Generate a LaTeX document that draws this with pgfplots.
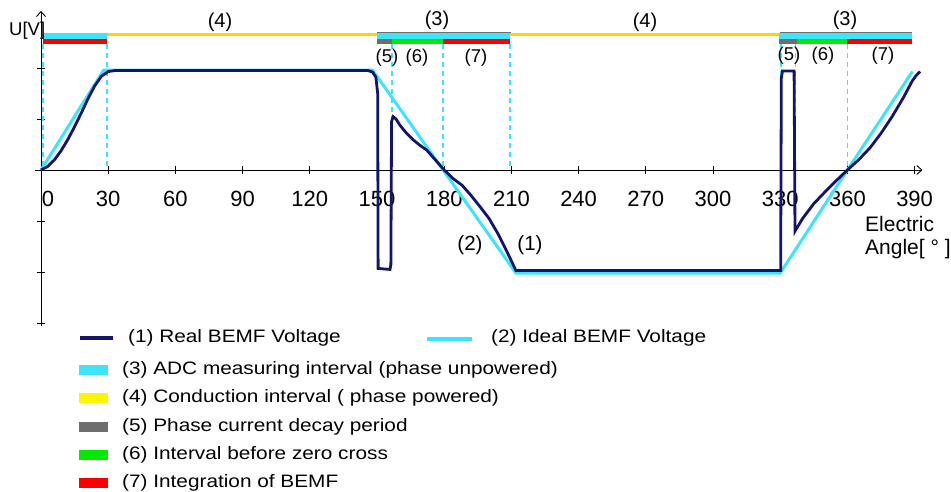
\documentclass[border=0pt]{standalone}
\usepackage{fontspec}
\setmainfont{Liberation Sans}
\newfontfamily\legfont[FakeStretch=1.155]{Liberation Sans}
\usepackage{pgfplots}
\pgfplotsset{compat=1.18}
\usetikzlibrary{arrows.meta}
\definecolor{navyc}{RGB}{20,20,110}
\definecolor{cyanc}{RGB}{60,230,250}
\definecolor{bandyel}{RGB}{250,215,0}
\definecolor{legyel}{RGB}{255,245,0}
\definecolor{grayc}{RGB}{110,110,110}
\definecolor{greenc}{RGB}{0,235,0}
\definecolor{redc}{RGB}{250,0,0}
\begin{document}
\begin{tikzpicture}
\begin{axis}[
 x=2.24pt, y=51pt,
 xmin=-2.7, xmax=393.5, ymin=-3.05, ymax=3.12,
 axis lines=middle,
 axis line style={line width=0.9pt, black},
 x axis line style={-{Straight Barb[length=5pt,width=9pt]}},
 y axis line style={-{Straight Barb[length=5pt,width=9pt]}},
 xtick={30,60,...,390},
 ytick={-3,-2,-1,1,2},
 yticklabels={},
 major tick length=8pt,
 tick align=center,
 tick style={black, line width=0.9pt},
 xticklabel style={font=\fontsize{22}{22}\selectfont, yshift=-14pt},
 /pgf/number format/assume math mode=true,
 clip=false,
]
% dashed guide lines
\addplot[cyanc, line width=1.7pt, dash pattern=on 5pt off 4pt] coordinates {(1,2.47) (1,0)};
\addplot[cyanc, line width=1.7pt, dash pattern=on 5pt off 4pt] coordinates {(29.5,2.47) (29.5,0)};
\addplot[cyanc, line width=1.7pt, dash pattern=on 5pt off 4pt] coordinates {(156.7,2.47) (156.7,0)};
\addplot[cyanc, line width=1.7pt, dash pattern=on 5pt off 4pt] coordinates {(179.6,2.47) (179.6,0)};
\addplot[cyanc, line width=1.7pt, dash pattern=on 5pt off 4pt] coordinates {(209.4,2.47) (209.4,0)};
\addplot[cyanc, line width=1.7pt, dash pattern=on 5pt off 4pt] coordinates {(330.3,2.47) (330.3,0)};
\addplot[cyanc, line width=1.7pt, dash pattern=on 5pt off 4pt] coordinates {(336.8,2.47) (336.8,0)};
\addplot[cyanc, line width=1.7pt, dash pattern=on 5pt off 4pt] coordinates {(360,2.47) (360,0)};
% ideal BEMF
\addplot[cyanc, line width=3pt] coordinates {(0,0) (28,1.96) (148,1.96) (212,-2.02) (330,-2.02) (360,0) (389,1.93)};
% real BEMF
\addplot[navyc, line width=2.8pt] coordinates {
(0,0) (3,0.07) (6,0.2) (9,0.38) (12,0.6) (15,0.85) (18,1.12) (21,1.4) (24,1.65) (27,1.84) (30,1.93) (33,1.95)
(146,1.95) (148,1.92) (149.5,1.82) (150.3,1.5) (150.5,-1.93) (155.8,-1.95) (156.2,-1.85) (156.5,0.95) (157.2,1.045)
(158.5,1.0) (160.2,0.88) (163,0.73) (166.2,0.59) (169,0.49) (172.2,0.39) (176,0.2) (180,0.0)
(184,-0.17) (188,-0.3) (192,-0.5) (196,-0.72) (200,-0.95) (204,-1.25) (208,-1.6) (212,-1.97)
(330.2,-1.97) (330.5,1.8) (331,1.94) (336.2,1.94) (336.6,-1.2)
(340,-0.95) (345,-0.66) (350,-0.43) (355,-0.21) (360,0) (365,0.2) (370,0.43) (375,0.72) (380,1.05) (385,1.42) (389,1.75) (391,1.87) (392.5,1.93)};
% top bands
\addplot[grayc, line width=0.8pt] coordinates {(150,2.69) (210,2.69)};
\addplot[grayc, line width=0.8pt] coordinates {(330,2.69) (389,2.69)};
\addplot[cyanc, line width=6pt] coordinates {(0.8,2.627) (29.5,2.627)};
\addplot[cyanc, line width=6pt] coordinates {(150,2.627) (209.4,2.627)};
\addplot[cyanc, line width=6pt] coordinates {(329.6,2.627) (389,2.627)};
\addplot[bandyel, line width=2.5pt] coordinates {(29.5,2.657) (150,2.657)};
\addplot[bandyel, line width=2.5pt] coordinates {(209.4,2.657) (329.6,2.657)};
\addplot[redc, line width=5pt] coordinates {(0.8,2.52) (29.5,2.52)};
\addplot[grayc, line width=5pt] coordinates {(150,2.52) (156.5,2.52)};
\addplot[greenc, line width=5pt] coordinates {(156.5,2.52) (179.6,2.52)};
\addplot[redc, line width=5pt] coordinates {(179.6,2.52) (209.4,2.52)};
\addplot[grayc, line width=5pt] coordinates {(329.6,2.52) (337.3,2.52)};
\addplot[greenc, line width=5pt] coordinates {(337.3,2.52) (360,2.52)};
\addplot[redc, line width=5pt] coordinates {(360,2.52) (389,2.52)};
\coordinate (O) at (axis cs:0,0);
\end{axis}
\pgfresetboundingbox
\begin{scope}[shift={(O)}, x=1pt, y=1pt]
\begin{scope}[shift={(-41,170)}, yscale=-1]
\path[use as bounding box] (0,0) rectangle (951,491);
% texts in the plot
\node[font=\fontsize{22}{22}\selectfont] at (48,199) {0};
\node[anchor=west, inner sep=0, font=\fontsize{18.5}{18.5}\selectfont] at (9,31) {U[V]};
\node[anchor=west, inner sep=0, font=\fontsize{21}{21}\selectfont] at (865,224) {Electric};
\node[anchor=west, inner sep=0, font=\fontsize{21}{21}\selectfont] at (865,249) {Angle[ ° ]};
\begin{scope}[every node/.style={font=\fontsize{20}{20}\selectfont, inner sep=0}]
\node at (220,22) {(4)};
\node at (437,20) {(3)};
\node at (645,22) {(4)};
\node at (845,20) {(3)};
\end{scope}
\begin{scope}[every node/.style={font=\fontsize{18.5}{18.5}\selectfont, inner sep=0}]
\node at (387,58) {(5)};
\node at (417,58) {(6)};
\node at (476,58) {(7)};
\node at (789,56) {(5)};
\node at (823,56) {(6)};
\node at (883,56) {(7)};
\end{scope}
\node[font=\fontsize{20.5}{20.5}\selectfont, inner sep=0] at (470,245) {(2)};
\node[font=\fontsize{20.5}{20.5}\selectfont, inner sep=0] at (530,245) {(1)};
% legend
\begin{scope}[every node/.style={anchor=west, inner sep=0, font=\legfont\fontsize{18}{18}\selectfont}]
\draw[navyc, line width=4.5pt] (80,338) -- (113,338);
\node at (128,338) {(1) Real BEMF Voltage};
\draw[cyanc, line width=4.5pt] (427,339) -- (472,339);
\node at (491,338) {(2) Ideal BEMF Voltage};
\fill[cyanc] (79,365) rectangle (108,375);
\node at (122,370) {(3) ADC measuring interval (phase unpowered)};
\fill[legyel] (79,393) rectangle (108,403);
\node at (122,398) {(4) Conduction interval ( phase powered)};
\fill[grayc] (79,422) rectangle (108,432);
\node at (122,427) {(5) Phase current decay period};
\fill[greenc] (79,450) rectangle (108,460);
\node at (122,455) {(6) Interval before zero cross};
\fill[redc] (79,478) rectangle (108,488);
\node at (122,483) {(7) Integration of BEMF};
\end{scope}
\end{scope}
\end{scope}
\end{tikzpicture}
\end{document}
